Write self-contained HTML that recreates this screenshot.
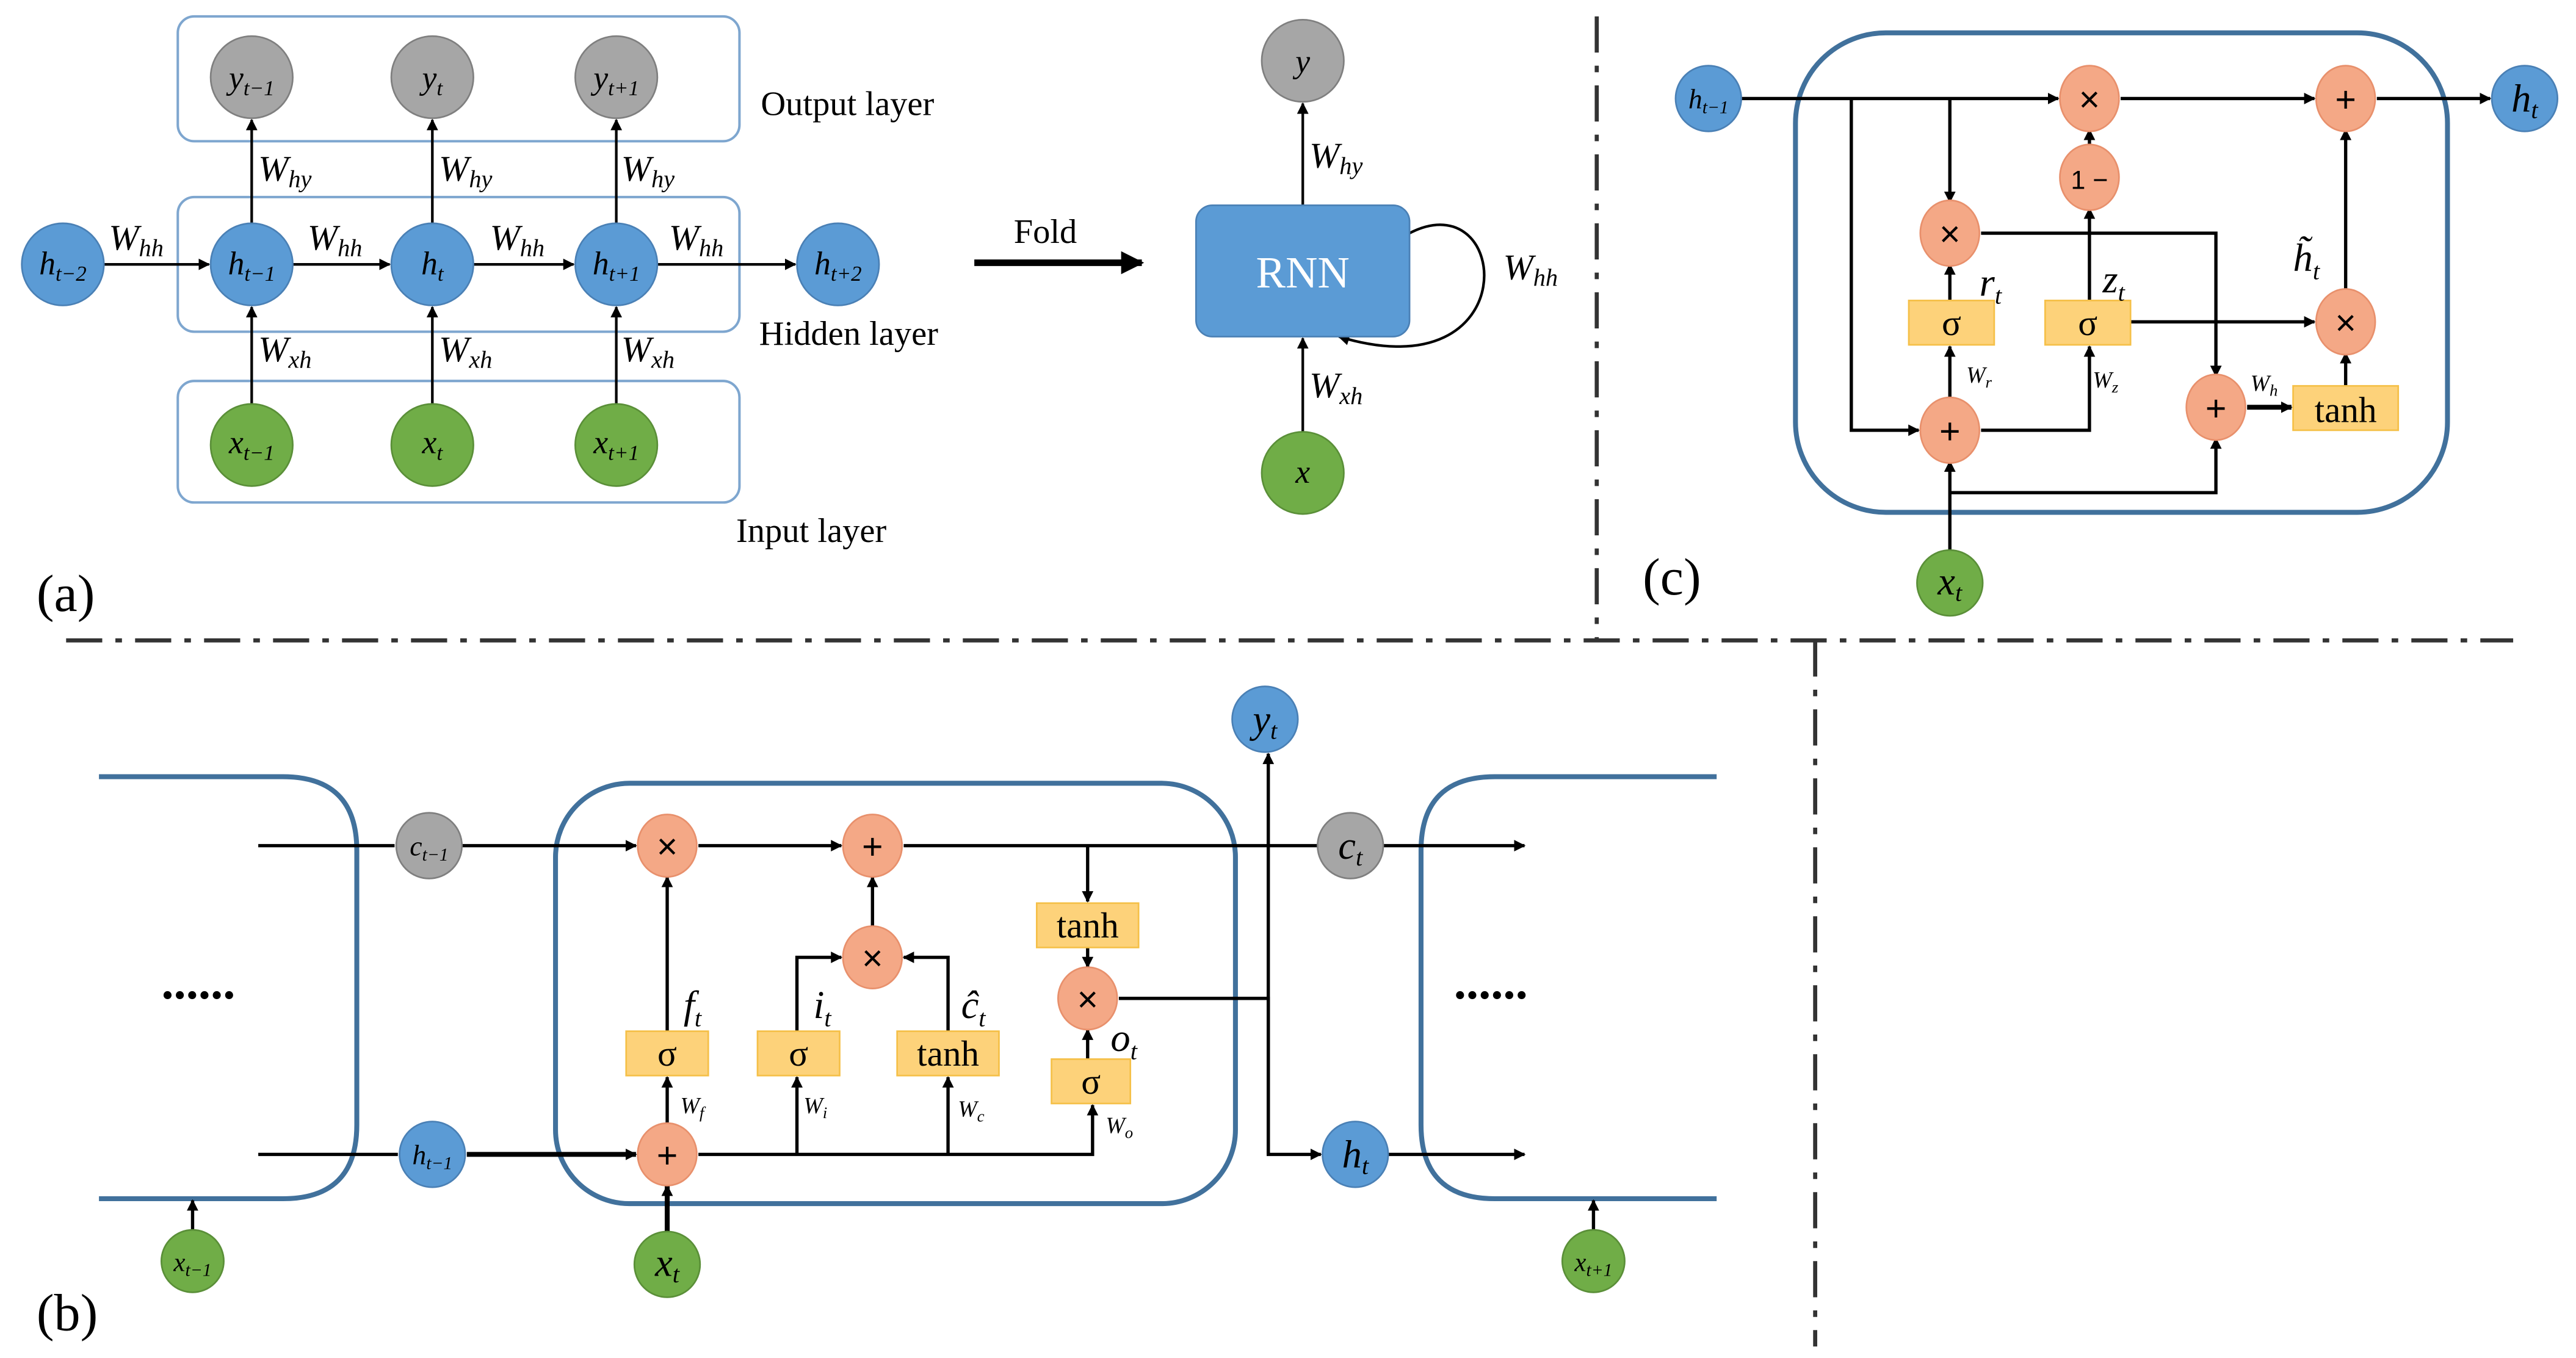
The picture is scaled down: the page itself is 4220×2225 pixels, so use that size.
<!DOCTYPE html>
<html><head><meta charset="utf-8"><style>
html,body{margin:0;padding:0;background:#fff}
svg{display:block}
text{font-family:"Liberation Serif",serif;}
.i{font-style:italic}
</style></head><body>
<svg width="4220" height="2225" viewBox="0 0 1568 827" xmlns="http://www.w3.org/2000/svg">
<defs>
<marker id="a" viewBox="0 0 10 10" refX="9" refY="5" markerWidth="7" markerHeight="7" markerUnits="userSpaceOnUse" orient="auto"><path d="M0,0L10,5L0,10z" fill="#000"/></marker>
<marker id="A" viewBox="0 0 10 10" refX="9" refY="5" markerWidth="14" markerHeight="14" markerUnits="userSpaceOnUse" orient="auto"><path d="M0,0L10,5L0,10z" fill="#000"/></marker>
</defs>
<rect width="1568" height="827" fill="#fff"/>
<g fill="none" stroke="#7ea6cf" stroke-width="1.5">
<rect x="108" y="10" width="342" height="76" rx="10"/>
<rect x="108" y="120" width="342" height="82" rx="10"/>
<rect x="108" y="232" width="342" height="74" rx="10"/>
</g>
<g stroke="#000" stroke-width="1.6" marker-end="url(#a)">
<line x1="63" y1="161" x2="127" y2="161"/><line x1="178" y1="161" x2="237" y2="161"/>
<line x1="288" y1="161" x2="349" y2="161"/><line x1="400" y1="161" x2="484" y2="161"/>
<line x1="153" y1="136" x2="153" y2="73"/><line x1="263" y1="136" x2="263" y2="73"/><line x1="375" y1="136" x2="375" y2="73"/>
<line x1="153" y1="246" x2="153" y2="187"/><line x1="263" y1="246" x2="263" y2="187"/><line x1="375" y1="246" x2="375" y2="187"/>
<line x1="793" y1="125" x2="793" y2="63"/><line x1="793" y1="263" x2="793" y2="206"/>
<path d="M858,142 C920,110 930,240 815,205" fill="none"/>
</g>
<line x1="593" y1="160" x2="695" y2="160" stroke="#000" stroke-width="4" marker-end="url(#A)"/>
<g stroke="#7f7f7f" stroke-width="1"><g fill="#a6a6a6">
<circle cx="153" cy="47" r="25"/><circle cx="263" cy="47" r="25"/><circle cx="375" cy="47" r="25"/><circle cx="793" cy="37" r="25"/></g>
<g fill="#5b9bd5" stroke="#4a80b5"><circle cx="38" cy="161" r="25"/><circle cx="153" cy="161" r="25"/><circle cx="263" cy="161" r="25"/><circle cx="375" cy="161" r="25"/><circle cx="510" cy="161" r="25"/></g>
<g fill="#70ad47" stroke="#5a8f38"><circle cx="153" cy="271" r="25"/><circle cx="263" cy="271" r="25"/><circle cx="375" cy="271" r="25"/><circle cx="793" cy="288" r="25"/></g>
</g>
<rect x="728" y="125" width="130" height="80" rx="10" fill="#5b9bd5" stroke="#4a80b5"/>
<text x="793" y="175" font-size="27" fill="#fff" text-anchor="middle">RNN</text>
<g font-size="20" class="i" text-anchor="middle">
<text x="153" y="54">y<tspan font-size="13" dy="4">t−1</tspan></text>
<text x="263" y="54">y<tspan font-size="13" dy="4">t</tspan></text>
<text x="375" y="54">y<tspan font-size="13" dy="4">t+1</tspan></text>
<text x="793" y="44">y</text>
<text x="38" y="167">h<tspan font-size="13" dy="4">t−2</tspan></text>
<text x="153" y="167">h<tspan font-size="13" dy="4">t−1</tspan></text>
<text x="263" y="167">h<tspan font-size="13" dy="4">t</tspan></text>
<text x="375" y="167">h<tspan font-size="13" dy="4">t+1</tspan></text>
<text x="510" y="167">h<tspan font-size="13" dy="4">t+2</tspan></text>
<text x="153" y="276">x<tspan font-size="13" dy="4">t−1</tspan></text>
<text x="263" y="276">x<tspan font-size="13" dy="4">t</tspan></text>
<text x="375" y="276">x<tspan font-size="13" dy="4">t+1</tspan></text>
<text x="793" y="294">x</text>
</g>
<g font-size="22" class="i">
<text x="66" y="152">W<tspan font-size="15" dy="4">hh</tspan></text>
<text x="187" y="152">W<tspan font-size="15" dy="4">hh</tspan></text>
<text x="298" y="152">W<tspan font-size="15" dy="4">hh</tspan></text>
<text x="407" y="152">W<tspan font-size="15" dy="4">hh</tspan></text>
<text x="157" y="110">W<tspan font-size="15" dy="4">hy</tspan></text>
<text x="267" y="110">W<tspan font-size="15" dy="4">hy</tspan></text>
<text x="378" y="110">W<tspan font-size="15" dy="4">hy</tspan></text>
<text x="157" y="220">W<tspan font-size="15" dy="4">xh</tspan></text>
<text x="267" y="220">W<tspan font-size="15" dy="4">xh</tspan></text>
<text x="378" y="220">W<tspan font-size="15" dy="4">xh</tspan></text>
<text x="797" y="102">W<tspan font-size="15" dy="4">hy</tspan></text>
<text x="797" y="242">W<tspan font-size="15" dy="4">xh</tspan></text>
<text x="915" y="170">W<tspan font-size="15" dy="4">hh</tspan></text>
</g>
<g font-size="21">
<text x="463" y="70">Output layer</text><text x="462" y="210">Hidden layer</text><text x="448" y="330">Input layer</text>
<text x="617" y="148">Fold</text>
</g>
<g font-size="32"><text x="22" y="372">(a)</text><text x="1000" y="362">(c)</text><text x="22" y="810">(b)</text></g>
<g stroke="#333" stroke-width="2.5" stroke-dasharray="22,8,4,8" fill="none">
<line x1="972" y1="10" x2="972" y2="390"/><line x1="40" y1="390" x2="1530" y2="390"/><line x1="1105" y1="390" x2="1105" y2="820"/>
</g>
<!-- panel c -->
<rect x="1093" y="20" width="397" height="292" rx="55" fill="none" stroke="#41719c" stroke-width="3"/>
<g stroke="#000" stroke-width="2" fill="none">
<line x1="1060" y1="60" x2="1253" y2="60" marker-end="url(#a)"/>
<polyline points="1127,60 1127,262 1168,262" marker-end="url(#a)"/>
<line x1="1187" y1="60" x2="1187" y2="123" marker-end="url(#a)"/>
<line x1="1187" y1="244" x2="1187" y2="211" marker-end="url(#a)"/>
<line x1="1187" y1="183" x2="1187" y2="161" marker-end="url(#a)"/>
<polyline points="1206,262 1272,262 1272,211" marker-end="url(#a)"/>
<line x1="1272" y1="183" x2="1272" y2="127" marker-end="url(#a)"/>
<line x1="1272" y1="89" x2="1272" y2="79" marker-end="url(#a)"/>
<line x1="1297" y1="196" x2="1409" y2="196" marker-end="url(#a)"/>
<polyline points="1206,142 1349,142 1349,229" marker-end="url(#a)"/>
<line x1="1368" y1="248" x2="1395" y2="248" stroke-width="3" marker-end="url(#a)"/>
<line x1="1428" y1="235" x2="1428" y2="215" marker-end="url(#a)"/>
<line x1="1428" y1="177" x2="1428" y2="79" marker-end="url(#a)"/>
<line x1="1291" y1="60" x2="1409" y2="60" marker-end="url(#a)"/>
<line x1="1447" y1="60" x2="1516" y2="60" marker-end="url(#a)"/>
<line x1="1187" y1="335" x2="1187" y2="281" marker-end="url(#a)"/>
<polyline points="1187,300 1349,300 1349,267" marker-end="url(#a)"/>
</g>
<g fill="#f4a886" stroke="#e8906c">
<ellipse cx="1272" cy="60" rx="18" ry="20"/><ellipse cx="1428" cy="60" rx="18" ry="20"/><ellipse cx="1272" cy="108" rx="18" ry="20"/>
<ellipse cx="1187" cy="142" rx="18" ry="20"/><ellipse cx="1428" cy="196" rx="18" ry="20"/><ellipse cx="1187" cy="262" rx="18" ry="20"/><ellipse cx="1349" cy="248" rx="18" ry="20"/>
</g>
<g fill="#fdd27a" stroke="#f5c048">
<rect x="1162" y="183" width="52" height="27"/><rect x="1245" y="183" width="52" height="27"/><rect x="1396" y="235" width="64" height="27"/>
</g>
<g font-size="22" text-anchor="middle" font-family="Liberation Sans,sans-serif">
<text x="1272" y="68" style="font-family:'Liberation Sans',sans-serif">×</text><text x="1428" y="68" style="font-family:'Liberation Sans',sans-serif">+</text>
<text x="1187" y="150" style="font-family:'Liberation Sans',sans-serif">×</text><text x="1428" y="204" style="font-family:'Liberation Sans',sans-serif">×</text>
<text x="1187" y="270" style="font-family:'Liberation Sans',sans-serif">+</text><text x="1349" y="256" style="font-family:'Liberation Sans',sans-serif">+</text>
<text x="1272" y="115" font-size="16" style="font-family:'Liberation Sans',sans-serif">1 −</text>
<text x="1188" y="204">σ</text><text x="1271" y="204">σ</text><text x="1428" y="257">tanh</text>
</g>
<g fill="#5b9bd5" stroke="#4a80b5"><circle cx="1040" cy="60" r="20"/><circle cx="1537" cy="60" r="20"/></g>
<circle cx="1187" cy="355" r="20" fill="#70ad47" stroke="#5a8f38"/>
<g class="i" text-anchor="middle">
<text x="1040" y="66" font-size="17">h<tspan font-size="11" dy="3">t−1</tspan></text>
<text x="1537" y="68" font-size="24">h<tspan font-size="15" dy="4">t</tspan></text>
<text x="1187" y="362" font-size="24">x<tspan font-size="15" dy="4">t</tspan></text>
</g>
<g class="i">
<text x="1205" y="180" font-size="24">r<tspan font-size="15" dy="5">t</tspan></text>
<text x="1280" y="178" font-size="24">z<tspan font-size="15" dy="5">t</tspan></text>
<text x="1396" y="165" font-size="24">h̃<tspan font-size="15" dy="5">t</tspan></text>
<text x="1197" y="233" font-size="14">W<tspan font-size="10" dy="3">r</tspan></text>
<text x="1274" y="236" font-size="14">W<tspan font-size="10" dy="3">z</tspan></text>
<text x="1370" y="238" font-size="14">W<tspan font-size="10" dy="3">h</tspan></text>
</g>
<!-- panel b -->
<g fill="none" stroke="#41719c" stroke-width="3">
<path d="M60,473 H172 Q217,473 217,518 V685 Q217,730 172,730 H60"/>
<rect x="338" y="477" width="414" height="256" rx="45"/>
<path d="M1045,473 H910 Q865,473 865,518 V685 Q865,730 910,730 H1045"/>
</g>
<g stroke="#000" stroke-width="2" fill="none">
<line x1="157" y1="515" x2="240" y2="515"/>
<line x1="281" y1="515" x2="387" y2="515" marker-end="url(#a)"/>
<line x1="425" y1="515" x2="512" y2="515" marker-end="url(#a)"/>
<line x1="550" y1="515" x2="802" y2="515"/>
<line x1="842" y1="515" x2="928" y2="515" marker-end="url(#a)"/>
<line x1="157" y1="703" x2="242" y2="703"/>
<line x1="284" y1="703" x2="387" y2="703" stroke-width="3" marker-end="url(#a)"/>
<polyline points="425,703 665,703 665,673" marker-end="url(#a)"/>
<line x1="485" y1="703" x2="485" y2="656" marker-end="url(#a)"/>
<line x1="577" y1="703" x2="577" y2="656" marker-end="url(#a)"/>
<line x1="406" y1="685" x2="406" y2="656" marker-end="url(#a)"/>
<line x1="406" y1="628" x2="406" y2="534" marker-end="url(#a)"/>
<polyline points="485,628 485,583 512,583" marker-end="url(#a)"/>
<polyline points="577,628 577,583 550,583" marker-end="url(#a)"/>
<line x1="531" y1="565" x2="531" y2="534" marker-end="url(#a)"/>
<line x1="662" y1="515" x2="662" y2="549" marker-end="url(#a)"/>
<line x1="662" y1="577" x2="662" y2="589" marker-end="url(#a)"/>
<line x1="662" y1="645" x2="662" y2="627" marker-end="url(#a)"/>
<polyline points="681,608 772,608 772,703 804,703" marker-end="url(#a)"/>
<line x1="772" y1="703" x2="772" y2="459" marker-end="url(#a)"/>
<line x1="845" y1="703" x2="928" y2="703" marker-end="url(#a)"/>
<line x1="406" y1="750" x2="406" y2="722" stroke-width="3" marker-end="url(#a)"/>
<line x1="117" y1="750" x2="117" y2="731" marker-end="url(#a)"/>
<line x1="970" y1="750" x2="970" y2="731" marker-end="url(#a)"/>
</g>
<g fill="#f4a886" stroke="#e8906c">
<ellipse cx="406" cy="515" rx="18" ry="19"/><ellipse cx="531" cy="515" rx="18" ry="19"/><ellipse cx="531" cy="583" rx="18" ry="19"/>
<ellipse cx="662" cy="608" rx="18" ry="19"/><ellipse cx="406" cy="703" rx="18" ry="19"/>
</g>
<g fill="#fdd27a" stroke="#f5c048">
<rect x="381" y="628" width="50" height="27"/><rect x="461" y="628" width="50" height="27"/><rect x="546" y="628" width="62" height="27"/>
<rect x="631" y="550" width="62" height="27"/><rect x="640" y="645" width="48" height="27"/>
</g>
<g font-size="22" text-anchor="middle">
<text x="406" y="523" style="font-family:'Liberation Sans',sans-serif">×</text><text x="531" y="523" style="font-family:'Liberation Sans',sans-serif">+</text>
<text x="531" y="591" style="font-family:'Liberation Sans',sans-serif">×</text><text x="662" y="616" style="font-family:'Liberation Sans',sans-serif">×</text>
<text x="406" y="711" style="font-family:'Liberation Sans',sans-serif">+</text>
<text x="406" y="649">σ</text><text x="486" y="649">σ</text><text x="577" y="649">tanh</text><text x="662" y="571">tanh</text><text x="664" y="666">σ</text>
</g>
<circle cx="261" cy="515" r="20" fill="#a6a6a6" stroke="#7f7f7f"/>
<circle cx="822" cy="515" r="20" fill="#a6a6a6" stroke="#7f7f7f"/>
<g fill="#5b9bd5" stroke="#4a80b5"><circle cx="263" cy="703" r="20"/><circle cx="825" cy="703" r="20"/><circle cx="770" cy="438" r="20"/></g>
<g fill="#70ad47" stroke="#5a8f38"><circle cx="406" cy="770" r="20"/><circle cx="117" cy="768" r="19"/><circle cx="970" cy="768" r="19"/></g>
<g class="i" text-anchor="middle">
<text x="261" y="521" font-size="17">c<tspan font-size="11" dy="3">t−1</tspan></text>
<text x="822" y="523" font-size="24">c<tspan font-size="15" dy="4">t</tspan></text>
<text x="263" y="709" font-size="17">h<tspan font-size="11" dy="3">t−1</tspan></text>
<text x="825" y="711" font-size="24">h<tspan font-size="15" dy="4">t</tspan></text>
<text x="770" y="446" font-size="24">y<tspan font-size="15" dy="4">t</tspan></text>
<text x="406" y="777" font-size="24">x<tspan font-size="15" dy="4">t</tspan></text>
<text x="117" y="774" font-size="16">x<tspan font-size="11" dy="3">t−1</tspan></text>
<text x="970" y="774" font-size="16">x<tspan font-size="11" dy="3">t+1</tspan></text>
</g>
<g class="i">
<text x="416" y="620" font-size="24">f<tspan font-size="15" dy="5">t</tspan></text>
<text x="495" y="620" font-size="24">i<tspan font-size="15" dy="5">t</tspan></text>
<text x="585" y="620" font-size="24">ĉ<tspan font-size="15" dy="5">t</tspan></text>
<text x="676" y="640" font-size="24">o<tspan font-size="15" dy="5">t</tspan></text>
<text x="414" y="678" font-size="14">W<tspan font-size="10" dy="3">f</tspan></text>
<text x="489" y="678" font-size="14">W<tspan font-size="10" dy="3">i</tspan></text>
<text x="583" y="680" font-size="14">W<tspan font-size="10" dy="3">c</tspan></text>
<text x="673" y="690" font-size="14">W<tspan font-size="10" dy="3">o</tspan></text>
</g>
<g font-size="30" font-weight="bold"><text x="98" y="608">......</text><text x="885" y="608">......</text></g>
</svg>
</body></html>
